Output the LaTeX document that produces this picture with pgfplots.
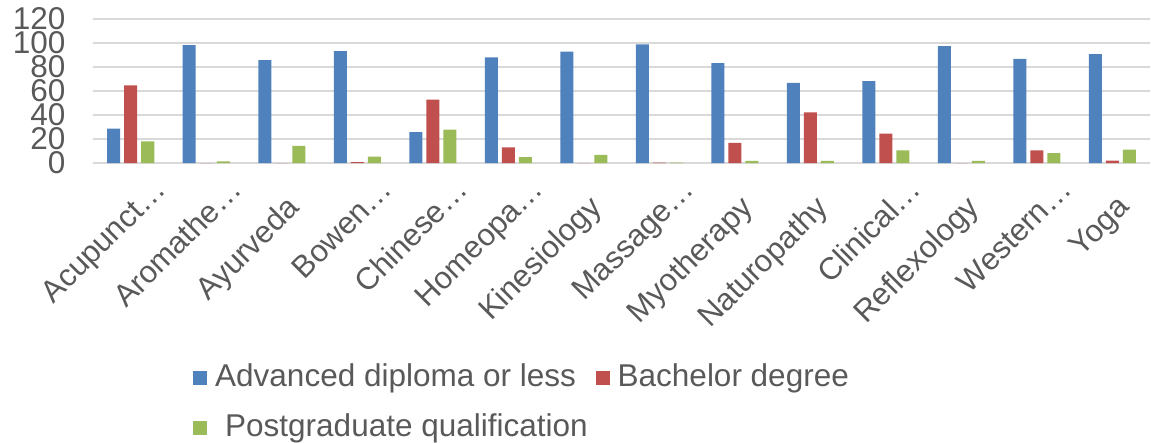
\documentclass[border=0pt]{standalone}
\usepackage{pgfplots}
\pgfplotsset{compat=1.18}
\usepackage{pgfplotstable}
\usepackage{fontspec}
\setmainfont{Liberation Sans}
\definecolor{cblue}{HTML}{4F81BD}
\definecolor{cred}{HTML}{C0504D}
\definecolor{cgreen}{HTML}{9BBB59}
\definecolor{txt}{HTML}{595959}
\definecolor{gridc}{HTML}{D9D9D9}
\newcommand{\full}[1]{#1\kern25pt}
\pgfplotstableread{
x adv bach post
0 28.6 64.7 18.0
1 98.3 0 1.4
2 85.8 0 14.2
3 93.3 0.8 5.3
4 25.8 52.8 27.8
5 88.0 13.0 5.0
6 92.8 0 6.7
7 98.9 0.4 0.4
8 83.3 16.7 1.7
9 66.7 42.2 1.7
10 68.3 24.4 10.6
11 97.5 0 1.7
12 86.7 10.6 8.3
13 90.8 1.9 11.1
}\datatable
\begin{document}
\begin{tikzpicture}
\begin{axis}[
  name=ax,
  scale only axis,
  width=1057pt, height=144pt,
  xmin=-0.5, xmax=13.5, ymin=0, ymax=120,
  ytick={0,20,...,120},
  xtick={0,...,13},
  xticklabels={Acupunct…,Aromathe…,\full{Ayurveda},Bowen…,Chinese…,Homeopa…,\full{Kinesiology},Massage…,\full{Myotherapy},\full{Naturopathy},Clinical…,\full{Reflexology},Western…,\full{Yoga}},
  ybar=4pt, bar width=13pt,
  axis line style={draw=none},
  major tick length=0pt,
  ymajorgrids, grid style={gridc, line width=1.8pt},
  yticklabel style={font=\fontsize{31.5}{36}\selectfont, text=txt, xshift=-24pt},
  xticklabel style={font=\fontsize{31}{36}\selectfont, text=txt, rotate=45, anchor=north east, inner sep=0pt, xshift=6pt, yshift=-24pt},
  /pgf/number format/assume math mode=true,
  legend style={draw=none, fill=none, inner sep=0pt, at={(0.0946,-1.39)}, anchor=north west,
    font=\fontsize{31.5}{36}\selectfont, text=txt,
    nodes={inner sep=0pt, text height=23pt, text depth=6pt},
    row sep=21pt,
    /tikz/every odd column/.append style={column sep=8pt},
    /tikz/every even column/.append style={column sep=8pt}},
  legend columns=2,
  legend cell align=left,
  legend image code/.code={\fill[#1] (0pt,-7pt) rectangle (14pt,7pt);},
]
\addplot[fill=cblue, draw=none] table[x=x, y=adv] {\datatable};
\addplot[fill=cred, draw=none] table[x=x, y=bach] {\datatable};
\addplot[fill=cgreen, draw=none] table[x=x, y=post] {\datatable};
\legend{Advanced diploma or less, Bachelor degree, \hspace{10pt}Postgraduate qualification}
\end{axis}
\pgfresetboundingbox
\path[use as bounding box] ([xshift=-93pt,yshift=-279pt]ax.south west) rectangle ([xshift=1pt,yshift=19pt]ax.north east);
\end{tikzpicture}
\end{document}
